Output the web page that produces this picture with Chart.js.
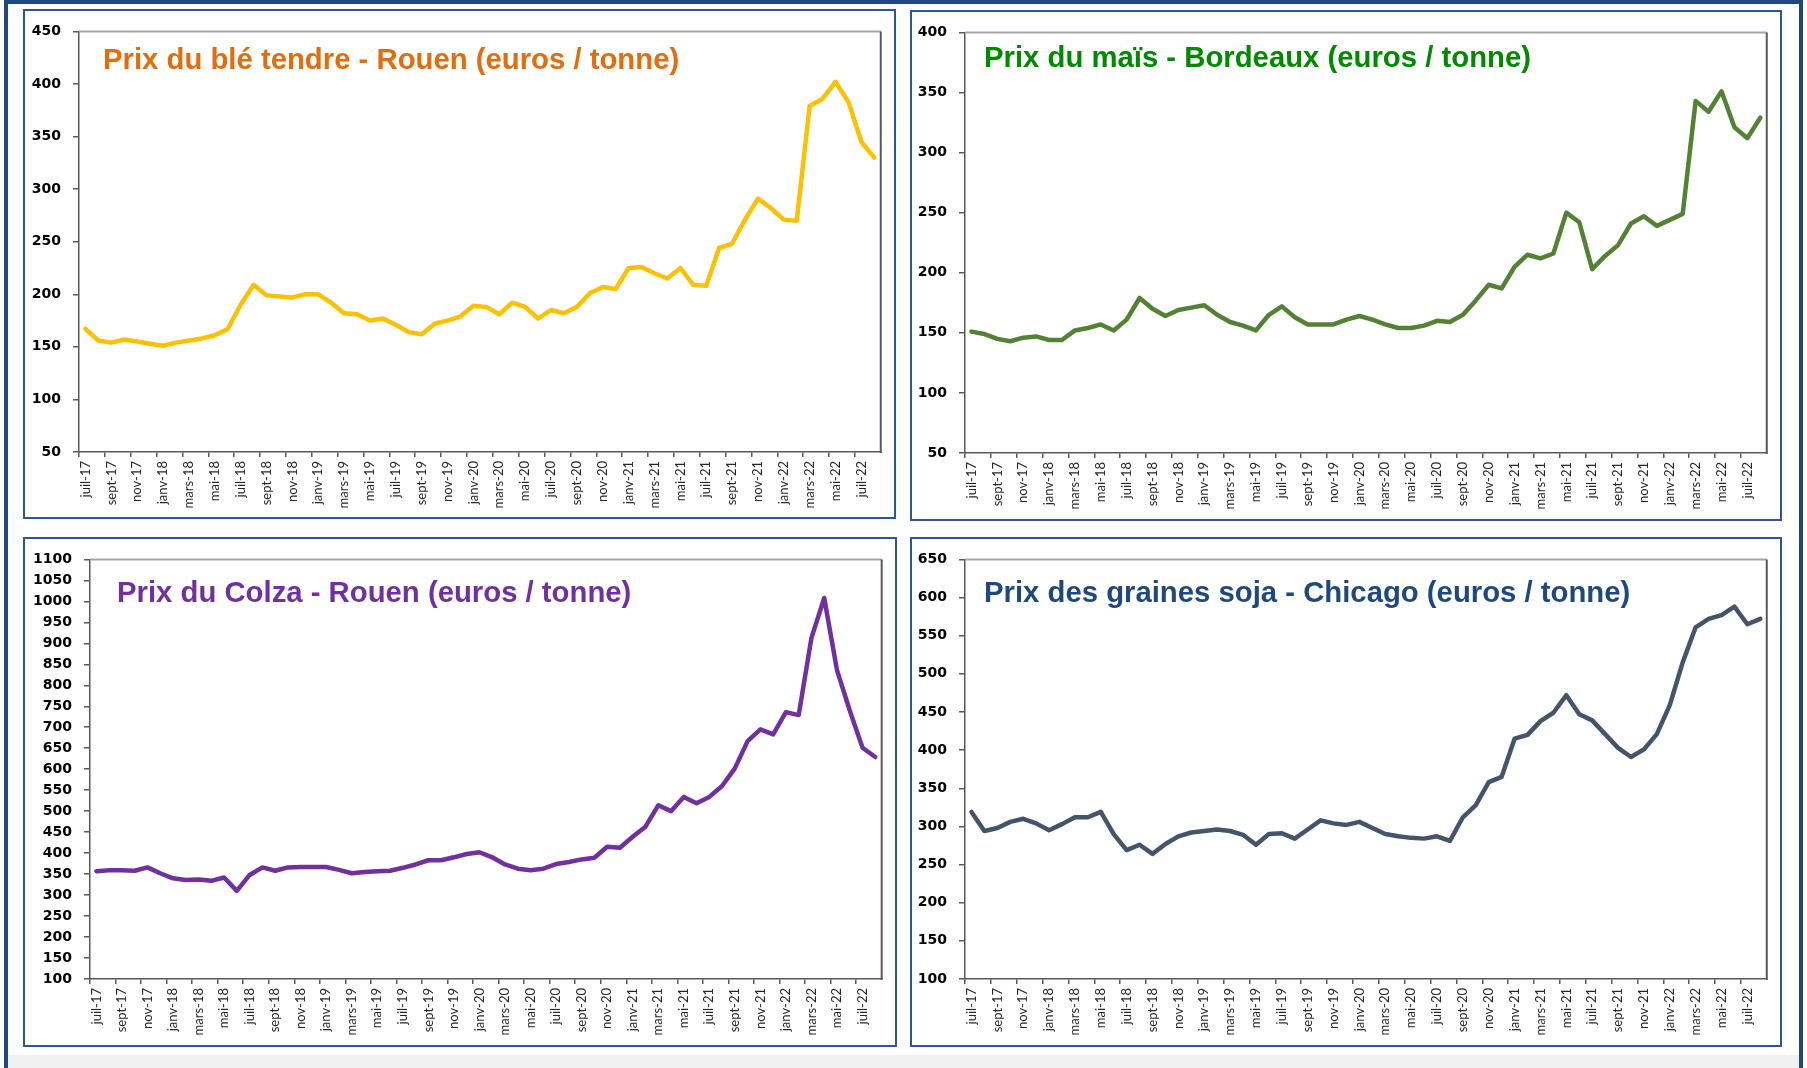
<!DOCTYPE html>
<html lang="fr">
<head>
<meta charset="utf-8">
<title>Prix des grains - juillet 2017 à août 2022</title>
<script src="https://cdn.jsdelivr.net/npm/chart.js@4"></script>
<style>
  html, body { margin: 0; padding: 0; }
  body { width: 1807px; height: 1068px; position: relative; background: #fff; overflow: hidden; }
  .frame { position: absolute; left: 4px; top: 0; width: 1791px; height: 1068px; border: 4px solid #1f497d; border-bottom: none; }
  .foot { position: absolute; left: 8px; top: 1055px; width: 1791px; height: 13px; background: #f0f0f0; }
  .panel { position: absolute; box-sizing: border-box; border: 2px solid #2c5797; }
  canvas { position: absolute; }
  .titre { position: absolute; font-family: "Liberation Sans", Arial, sans-serif; font-weight: bold;
           font-size: 29.3px; line-height: 1; white-space: nowrap; }
</style>
</head>
<body>
<div class="frame"></div>
<div class="foot"></div>

<div class="panel" style="left:23px;top:9px;width:873px;height:510px"></div>
<div class="panel" style="left:910px;top:10px;width:872px;height:511px"></div>
<div class="panel" style="left:23px;top:537px;width:874px;height:510px"></div>
<div class="panel" style="left:910px;top:537px;width:872px;height:510px"></div>

<canvas id="ble"></canvas>
<canvas id="mais"></canvas>
<canvas id="colza"></canvas>
<canvas id="soja"></canvas>

<div class="titre" style="left:103px;top:44px;color:#e46c0a">Prix du blé tendre - Rouen (euros / tonne)</div>
<div class="titre" style="left:984px;top:42px;color:#008a00">Prix du maïs - Bordeaux (euros / tonne)</div>
<div class="titre" style="left:117px;top:577px;color:#7030a0">Prix du Colza - Rouen (euros / tonne)</div>
<div class="titre" style="left:984px;top:577px;color:#1f497d">Prix des graines soja - Chicago (euros / tonne)</div>

<script>
// mois, de juillet 2017 à août 2022
const mois = [
  'juil-17', 'août-17', 'sept-17', 'oct-17', 'nov-17', 'déc-17',
  'janv-18', 'févr-18', 'mars-18', 'avr-18', 'mai-18', 'juin-18',
  'juil-18', 'août-18', 'sept-18', 'oct-18', 'nov-18', 'déc-18',
  'janv-19', 'févr-19', 'mars-19', 'avr-19', 'mai-19', 'juin-19',
  'juil-19', 'août-19', 'sept-19', 'oct-19', 'nov-19', 'déc-19',
  'janv-20', 'févr-20', 'mars-20', 'avr-20', 'mai-20', 'juin-20',
  'juil-20', 'août-20', 'sept-20', 'oct-20', 'nov-20', 'déc-20',
  'janv-21', 'févr-21', 'mars-21', 'avr-21', 'mai-21', 'juin-21',
  'juil-21', 'août-21', 'sept-21', 'oct-21', 'nov-21', 'déc-21',
  'janv-22', 'févr-22', 'mars-22', 'avr-22', 'mai-22', 'juin-22',
  'juil-22', 'août-22'
];

const prixBle = [
  167, 156, 154, 157, 155, 153, 151, 154, 156, 158, 161, 167,
  190, 209, 199, 198, 197, 200, 200, 192, 182, 181, 175, 177,
  171, 164, 162, 172, 175, 179, 189, 188, 181, 192, 188, 177,
  185, 182, 188, 201, 207, 205, 225, 226, 220, 215, 225, 209,
  208, 244, 248, 271, 291, 282, 271, 270, 379, 386, 402, 383,
  345, 330
];

const prixMais = [
  151, 149, 145, 143, 146, 147, 144, 144, 152, 154, 157, 152,
  161, 179, 170, 164, 169, 171, 173, 165, 159, 156, 152, 165,
  172, 163, 157, 157, 157, 161, 164, 161, 157, 154, 154, 156,
  160, 159, 165, 177, 190, 187, 205, 215, 212, 216, 250, 242,
  203, 214, 223, 241, 247, 239, 244, 249, 343, 334, 351, 321,
  312, 329
];

const prixColza = [
  357, 359, 359, 358, 366, 352, 340, 336, 337, 334, 342, 310,
  348, 366, 358, 366, 367, 367, 367, 360, 352, 355, 357, 358,
  365, 373, 383, 383, 390, 398, 402, 390, 373, 363, 359, 363,
  374, 379, 385, 389, 415, 413, 439, 463, 514, 500, 534, 519,
  534, 560, 602, 667, 695, 683, 736, 729, 913, 1008, 836, 740,
  651, 629
];

const prixSoja = [
  319, 294, 298, 306, 310, 304, 295, 303, 312, 312, 319, 290,
  269, 276, 264, 277, 287, 292, 294, 296, 294, 289, 276, 290,
  291, 284, 296, 308, 304, 302, 306, 298, 290, 287, 285, 284,
  287, 281, 312, 328, 358, 365, 415, 420, 438, 449, 472, 447,
  439, 421, 403, 391, 401, 421, 459, 515, 561, 572, 577, 588,
  565, 572
];

const AXE = '#595959';

// cadre gris autour de la zone de tracé (haut et droite)
const cadre = {
  id: 'cadre',
  afterDraw(chart) {
    const { ctx, chartArea: a } = chart;
    ctx.save();
    ctx.lineWidth = 2;
    ctx.strokeStyle = '#a6a6a6';
    ctx.beginPath();
    ctx.moveTo(a.left, a.top);
    ctx.lineTo(a.right, a.top);
    ctx.stroke();
    ctx.strokeStyle = AXE;
    ctx.beginPath();
    ctx.moveTo(a.right, a.top);
    ctx.lineTo(a.right, a.bottom + 1);
    ctx.stroke();
    ctx.restore();
  }
};

function graphique(id, box, plot, valeurs, couleur, yMin, yMax) {
  const canvas = document.getElementById(id);
  // le canvas occupe l'intérieur du cadre bleu
  const c = { l: box[0] + 2, t: box[1] + 2, w: box[2] - 4, h: box[3] - 4 };
  canvas.width = c.w;
  canvas.height = c.h;
  canvas.style.left = c.l + 'px';
  canvas.style.top = c.t + 'px';

  const largeurY = plot[0] - c.l;
  const hautX = c.t + c.h - plot[3];

  new Chart(canvas, {
    type: 'line',
    data: {
      labels: mois,
      datasets: [{
        data: valeurs,
        borderColor: couleur,
        borderWidth: 4.5,
        borderJoinStyle: 'round',
        borderCapStyle: 'round',
        pointRadius: 0,
        tension: 0,
        fill: false
      }]
    },
    options: {
      responsive: false,
      animation: false,
      devicePixelRatio: 1,
      layout: {
        padding: { left: 0, top: plot[1] - c.t, right: c.l + c.w - plot[2], bottom: 0 }
      },
      plugins: {
        legend: { display: false },
        tooltip: { enabled: false }
      },
      scales: {
        x: {
          offset: true,
          grid: {
            offset: true,
            drawOnChartArea: false,
            tickLength: 5,
            lineWidth: 1.5,
            color: ctx => (ctx.index % 2 === 0 ? AXE : 'rgba(0,0,0,0)')
          },
          border: { color: AXE, width: 1.5 },
          ticks: {
            autoSkip: false,
            minRotation: 90,
            maxRotation: 90,
            padding: 4,
            color: '#262626',
            font: { family: 'Lato', size: 13 },
            callback: (v, i) => (i % 2 === 0 ? mois[i] : '')
          },
          afterFit: s => { s.height = hautX; }
        },
        y: {
          min: yMin,
          max: yMax,
          grid: { drawOnChartArea: false, tickLength: 6, lineWidth: 1.5, color: AXE },
          border: { color: AXE, width: 1.5 },
          ticks: {
            stepSize: 50,
            padding: 12,
            color: '#000',
            font: { family: 'DejaVu Sans', weight: 'bold', size: 14 },
            callback: v => String(v)
          },
          afterFit: s => { s.width = largeurY; }
        }
      }
    },
    plugins: [cadre]
  });
}

graphique('ble',   [23, 9, 873, 510],   [79, 25, 882, 452],   prixBle,   '#ffc000', 50, 450);
graphique('mais',  [910, 10, 872, 511], [965, 27, 1767, 453], prixMais,  '#548235', 50, 400);
graphique('colza', [23, 537, 874, 510], [90, 553, 882, 979],  prixColza, '#7030a0', 100, 1100);
graphique('soja',  [910, 537, 872, 510], [965, 554, 1767, 979], prixSoja, '#44546a', 100, 650);
</script>
</body>
</html>
